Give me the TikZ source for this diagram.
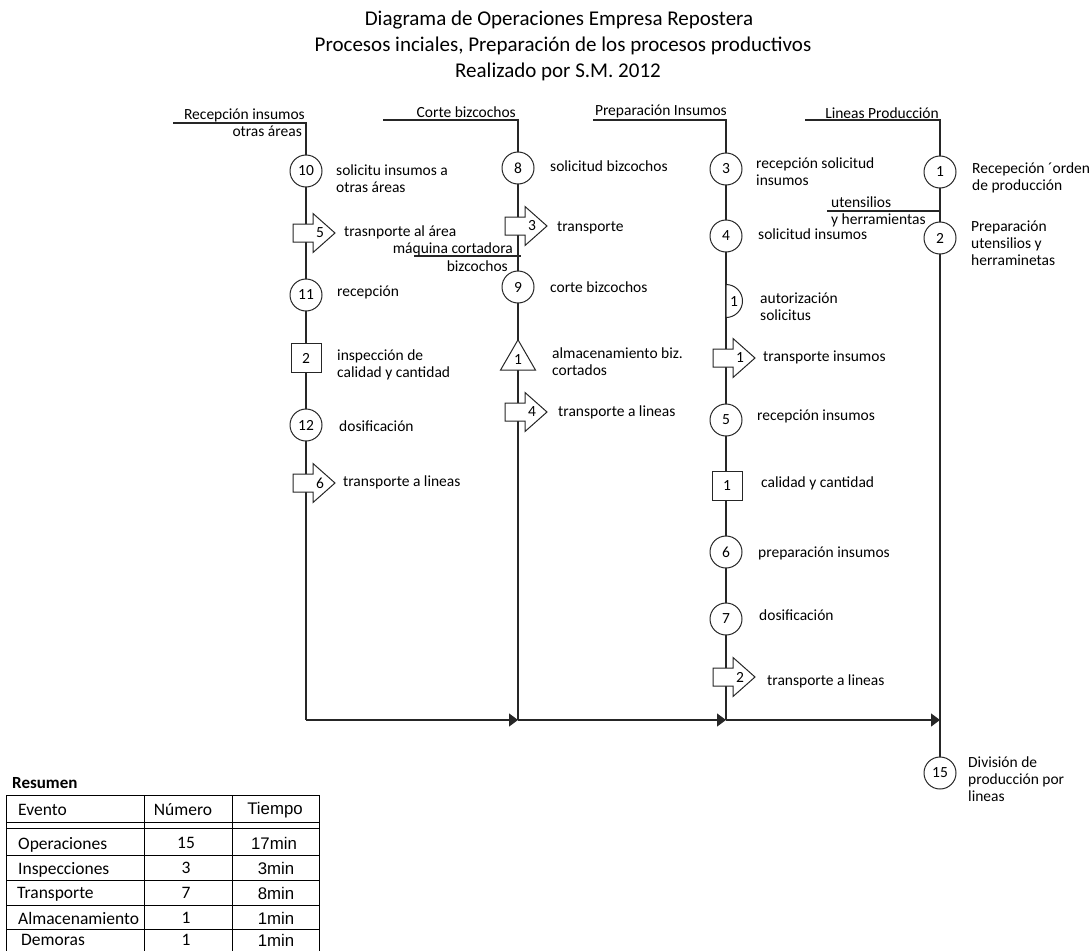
\documentclass[tikz,border=0pt]{standalone}
\usepackage{fontspec}
\setmainfont{Carlito}
\newfontfamily\arialfont{Liberation Sans}
\usetikzlibrary{arrows.meta,shapes.geometric}

% block arrow for a transport step: #1 name, #2 x of the flow line, #3 y, #4 number
\newcommand{\tpArrow}[4]{%
  \filldraw[symb, fill=white] (#2-13,#3-9) -- (#2+7,#3-9) -- (#2+7,#3-19.5)
    -- (#2+29,#3) -- (#2+7,#3+19.5) -- (#2+7,#3+9) -- (#2-13,#3+9) -- cycle;
  \node[num] (#1) at (#2+14,#3) {#4};}

\begin{document}
\begin{tikzpicture}[x=1pt,y=-1pt,
  flow/.style={line width=1.3pt, draw=black!85},
  symb/.style={line width=1pt, draw=black!85},
  txt/.style={font=\fontsize{15.5}{17}\selectfont},
  lbl/.style={txt, inner sep=0pt, anchor=west, align=left},
  lble/.style={txt, inner sep=0pt, anchor=east, align=right},
  num/.style={txt, inner sep=0pt},
  op/.style={symb, txt, circle, fill=white, minimum size=32pt, inner sep=0pt},
  insp/.style={symb, txt, rectangle, fill=white, minimum width=30pt, minimum height=29pt, inner sep=0pt},
  store/.style={symb, txt, regular polygon, regular polygon sides=3, fill=white, minimum size=40.4pt, inner sep=0pt},
  ttl/.style={font=\fontsize{21}{24}\selectfont, inner sep=0pt},
  cell/.style={font=\fontsize{17.5}{19}\selectfont, inner sep=0pt},
  tcell/.style={font=\arialfont\fontsize{16.8}{19}\selectfont, inner sep=0pt},
  grid/.style={line width=1pt, draw=black},
  step arrow/.style={-{Triangle[length=9pt,width=13pt]}}
]
\useasboundingbox (0,0) rectangle (1089,950);

% titles
\node[ttl] (title1) at (559,20) {Diagrama de Operaciones Empresa Repostera};
\node[ttl] (title2) at (563,46) {Procesos inciales, Preparación de los procesos productivos};
\node[ttl] (title3) at (558,72) {Realizado por S.M. 2012};

% flow-line anchors
\coordinate (h1s) at (173,123); \coordinate (h1) at (306,123); \coordinate (b1) at (306,720);
\coordinate (h2s) at (383,120); \coordinate (h2) at (518,120); \coordinate (b2) at (518,720);
\coordinate (h3s) at (593,120); \coordinate (h3) at (726,120); \coordinate (b3) at (726,720);
\coordinate (h4s) at (805,120); \coordinate (h4) at (940,120); \coordinate (b4) at (940,720);
\coordinate (m2s) at (414,256); \coordinate (m2e) at (521,256);
\coordinate (u4s) at (827,211); \coordinate (u4e) at (941,211);

% process lines
\draw[flow] (h1s) -- (h1) -- (b1);
\draw[flow] (h2s) -- (h2) -- (b2);
\draw[flow] (h3s) -- (h3) -- (b3);
\draw[flow] (h4s) -- (h4) -- (b4);
\draw[flow] (m2s) -- (m2e);
\draw[flow] (u4s) -- (u4e);
\draw[flow, step arrow] (b1) -- (b2);
\draw[flow, step arrow] (b2) -- (b3);
\draw[flow, step arrow] (b3) -- (b4);

% column headers
\node[lble] (hd1) at (305,115) {Recepción insumos};
\node[lble] (hd1b) at (302,131) {otras áreas};
\node[lble] (hd2) at (516,112) {Corte bizcochos};
\node[lble] (hd3) at (727,111) {Preparación Insumos};
\node[lble] (hd4) at (939,113) {Lineas Producción};

% column 1: recepcion de insumos de otras areas
\node[op] (o10) at (306,171) {10};
\tpArrow{t5}{306}{233}{5}
\node[op] (o11) at (306,295) {11};
\node[insp] (i2) at (306,358) {2};
\node[op] (o12) at (306,425) {12};
\tpArrow{t6}{306}{483}{6}
\node[lbl] (l10) at (336,178.5) {solicitu insumos a\\otras áreas};
\node[lbl] (lt5) at (344,232) {trasnporte al área};
\node[lbl] (l11) at (337,292) {recepción};
\node[lbl] (li2) at (337,365) {inspección de\\calidad y cantidad};
\node[lbl] (l12) at (339,426) {dosificación};
\node[lbl] (lt6) at (343,482) {transporte a lineas};

% column 2: corte de bizcochos
\node[op] (o8) at (518,168) {8};
\tpArrow{t3}{518}{226}{3}
\node[lble] (m2a) at (513,249) {máquina cortadora};
\node[lble] (m2b) at (508,266) {bizcochos};
\node[op] (o9) at (518,287) {9};
\node[store] (s1) at (518,360) {1};
\tpArrow{t4}{518}{412}{4}
\node[lbl] (l8) at (550,166) {solicitud bizcochos};
\node[lbl] (lt3) at (557,228) {transporte};
\node[lbl] (l9) at (550,287) {corte bizcochos};
\node[lbl] (ls1) at (552,362) {almacenamiento biz.\\cortados};
\node[lbl] (lt4) at (558,412) {transporte a lineas};

% column 3: preparacion de insumos
\node[op] (o3) at (726,169) {3};
\node[op] (o4) at (726,236) {4};
\filldraw[symb, fill=white] (726,284.5) arc[start angle=-90, end angle=90, radius=16.5] -- cycle;
\node[num] (d1) at (734,302) {1};
\tpArrow{t1}{726}{358}{1}
\node[op] (o5) at (726,420) {5};
\node[insp] (i1) at (727,486) {1};
\node[op] (o6) at (726,552) {6};
\node[op] (o7) at (726,619) {7};
\tpArrow{t2}{726}{677}{2}
\node[lbl] (l3) at (756,171.5) {recepción solicitud\\insumos};
\node[lbl] (l4) at (758,234) {solicitud insumos};
\node[lbl] (ld1) at (760,306.5) {autorización\\solicitus};
\node[lbl] (lt1) at (763,357) {transporte insumos};
\node[lbl] (l5) at (757,416) {recepción insumos};
\node[lbl] (li1) at (761,483) {calidad y cantidad};
\node[lbl] (l6) at (758,553) {preparación insumos};
\node[lbl] (l7) at (759,615) {dosificación};
\node[lbl] (lt2) at (767,681) {transporte a lineas};

% column 4: lineas de produccion
\node[op] (o1) at (940,172) {1};
\node[lbl] (u4a) at (831,202) {utensilios};
\node[lbl] (u4b) at (831,220) {y herramientas};
\node[op] (o2) at (940,238) {2};
\node[op] (o15) at (940,773) {15};
\draw[flow] (b4) -- (o15);
\node[lbl] (l1) at (972,178) {Recepeción ´orden\\de producción};
\node[lbl] (l2) at (971,243) {Preparación\\utensilios y\\herraminetas};
\node[lbl] (l15) at (968,779) {División de\\producción por\\lineas};

% summary table
\node[anchor=west, inner sep=0pt, font=\bfseries\fontsize{17}{19}\selectfont] (resumen) at (12,783) {Resumen};
\draw[grid] (6,795) -- (319,795);
\draw[grid] (6,822) -- (319,822);
\draw[grid] (6,828) -- (319,828);
\draw[grid] (6,855) -- (319,855);
\draw[grid] (6,880) -- (319,880);
\draw[grid] (6,905) -- (319,905);
\draw[grid] (6,929) -- (319,929);
\draw[grid] (6,795) -- (6,960);
\draw[grid] (144,795) -- (144,960);
\draw[grid] (232,795) -- (232,960);
\draw[grid] (319,795) -- (319,960);

\node[cell, anchor=west] (ev) at (18,810) {Evento};
\node[cell] (nu) at (183,810) {Número};
\node[tcell] (ti) at (275,810) {Tiempo};

\node[cell, anchor=west] (r1a) at (18,845) {Operaciones};
\node[cell] (r1b) at (186,843) {15};
\node[tcell] (r1c) at (274,843) {17min};
\node[cell, anchor=west] (r2a) at (18,870) {Inspecciones};
\node[cell] (r2b) at (186,868) {3};
\node[tcell] (r2c) at (276,868) {3min};
\node[cell, anchor=west] (r3a) at (17,894) {Transporte};
\node[cell] (r3b) at (186,893) {7};
\node[tcell] (r3c) at (276,893) {8min};
\node[cell, anchor=west] (r4a) at (18,918) {Almacenamiento};
\node[cell] (r4b) at (186,918) {1};
\node[tcell] (r4c) at (276,918) {1min};
\node[cell, anchor=west] (r5a) at (21,940) {Demoras};
\node[cell] (r5b) at (186,940) {1};
\node[tcell] (r5c) at (276,940) {1min};
\end{tikzpicture}
\end{document}
